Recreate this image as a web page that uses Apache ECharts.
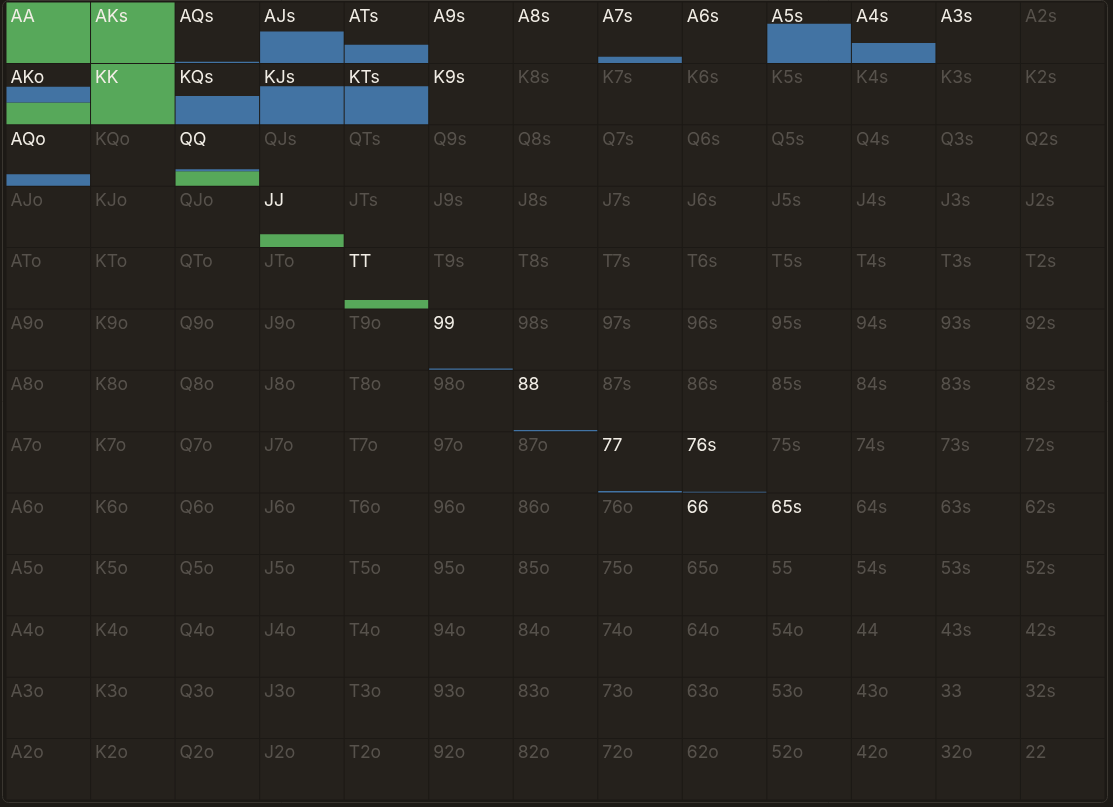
<!DOCTYPE html>
<html>
<head>
    <meta charset="UTF-8">
    <title>Range grid</title>
    <script src="https://cdn.jsdelivr.net/npm/echarts@6.0.0/dist/echarts.min.js"></script>
    <style>
        html, body {
            margin: 0;
            padding: 0;
            background-color: #1d1a16;
        }
        #chartContainer {
            width: 1113px;
            height: 807px;
        }
    </style>
</head>
<body>
    <div id="chartContainer"></div>

    <script>
        // rank order on both axes
        const ranks = ['A', 'K', 'Q', 'J', 'T', '9', '8', '7', '6', '5', '4', '3', '2'];

        // hands in the range (white label), with raise / call frequency in %
        const rangeHands = ['AA', 'AKs', 'AQs', 'AJs', 'ATs', 'A9s', 'A8s', 'A7s', 'A6s', 'A5s', 'A4s', 'A3s',
                            'AKo', 'KK', 'KQs', 'KJs', 'KTs', 'K9s',
                            'AQo', 'QQ', 'JJ', 'TT', '99', '88', '77', '76s', '66', '65s'];
        const raiseFreq = [100, 100, 0, 0, 0, 0, 0, 0, 0, 0, 0, 0,
                           36, 100, 0, 0, 0, 0,
                           0, 24, 21, 14, 0, 0, 0, 0, 0, 0];
        const callFreq = [0, 0, 2, 52, 30, 0, 0, 10, 0, 65, 33, 0,
                          26, 0, 47, 63, 63, 0,
                          19, 3, 0, 0, 2, 2, 2.5, 1.5, 0, 0];

        function handName(r, c) {
            if (r === c) return ranks[r] + ranks[c];
            if (r < c) return ranks[r] + ranks[c] + 's';
            return ranks[c] + ranks[r] + 'o';
        }

        const cells = [];
        for (let r = 0; r < 13; r++) {
            for (let c = 0; c < 13; c++) {
                const name = handName(r, c);
                const i = rangeHands.indexOf(name);
                cells.push([c, r, i >= 0 ? raiseFreq[i] : 0, i >= 0 ? callFreq[i] : 0, i >= 0 ? 1 : 0, name]);
            }
        }

        const myChart = echarts.init(document.getElementById('chartContainer'));

        function renderCell(params, api) {
            const center = api.coord([api.value(0), api.value(1)]);
            const size = api.size([1, 1]);
            const x0 = center[0] - size[0] / 2 + 0.5;
            const y0 = center[1] - size[1] / 2 + 0.5;
            const w = size[0] - 1;
            const h = size[1] - 1;
            const raise = api.value(2) / 100 * h;
            const call = api.value(3) / 100 * h;
            const active = api.value(4) === 1;
            const name = cells[params.dataIndex][5];
            const children = [{
                type: 'rect',
                shape: { x: x0, y: y0, width: w, height: h },
                style: { fill: '#25211c' }
            }];
            if (raise > 0) {
                children.push({
                    type: 'rect',
                    shape: { x: x0, y: y0 + h - raise, width: w, height: raise },
                    style: { fill: '#57a85a' }
                });
            }
            if (call > 0) {
                children.push({
                    type: 'rect',
                    shape: { x: x0, y: y0 + h - raise - call, width: w, height: call },
                    style: { fill: '#4273a3' }
                });
            }
            children.push({
                type: 'text',
                style: {
                    x: x0 + 4,
                    y: y0 + 5,
                    text: name,
                    fill: active ? '#f2eee6' : '#57524c',
                    font: '17.5px Inter, "Noto Sans", sans-serif',
                    textVerticalAlign: 'top'
                }
            });
            return { type: 'group', children: children };
        }

        const option = {
            animation: false,
            graphic: [{
                type: 'rect',
                shape: { x: 2.5, y: 0.5, width: 1105, height: 802, r: 6 },
                style: { fill: '#1c1915', stroke: '#3a3630', lineWidth: 1 },
                z: -10
            }],
            grid: { left: 6, top: 2, width: 1099, height: 798 },
            xAxis: {
                type: 'category',
                data: ranks,
                show: false
            },
            yAxis: {
                type: 'category',
                data: ranks,
                inverse: true,
                show: false
            },
            series: [{
                type: 'custom',
                renderItem: renderCell,
                data: cells,
                encode: { x: 0, y: 1 }
            }]
        };

        myChart.setOption(option);
    </script>
</body>
</html>
